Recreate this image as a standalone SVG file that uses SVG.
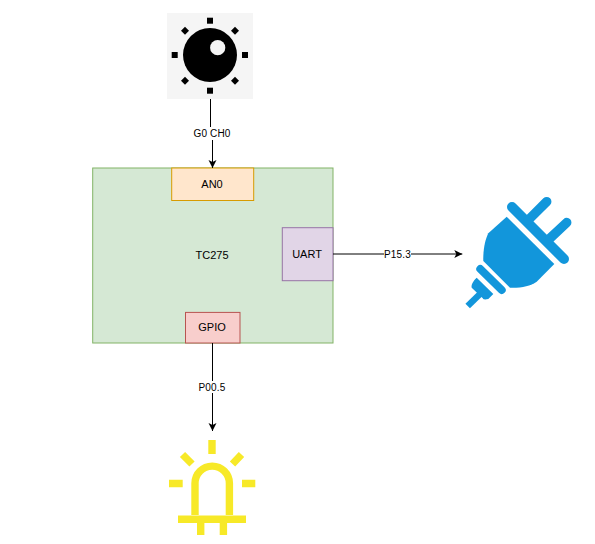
<svg xmlns="http://www.w3.org/2000/svg" width="595" height="544" viewBox="0 0 595 544">
<style>
text{font-family:"Liberation Sans",Arial,sans-serif;fill:#000;text-anchor:middle}
.n{font-size:11px}.l{font-size:10px;letter-spacing:.15px}
.c{fill:none;stroke:#000;stroke-width:1}
.bg{fill:#fff}
.plug{fill:none;stroke:#1296db;stroke-linecap:round}
.led{fill:none;stroke:#f7e928;stroke-width:7.4}
</style>
<defs>
<marker id="arrow" markerUnits="userSpaceOnUse" markerWidth="10" markerHeight="10" refX="8" refY="4.5" orient="auto">
<path d="M0 0.500L8 4.500L0 8.500L2 4.500Z" fill="#000"/>
</marker>
</defs>
<g id="knob">
<rect x="167" y="13" width="86" height="86" fill="#f5f5f5"/>
<circle cx="210" cy="55" r="27" fill="#000"/>
<circle cx="217.700" cy="47.700" r="7.600" fill="#f5f5f5"/>
<rect x="207" y="17.700" width="6" height="6"/>
<rect x="207" y="87.700" width="6" height="6"/>
<rect x="171.700" y="52" width="6" height="6"/>
<rect x="242" y="52" width="6" height="6"/>
<path d="M185 26.700l4 4l-4 4l-4-4zM235 26.700l4 4l-4 4l-4-4zM185 76.700l4 4l-4 4l-4-4zM235 76.700l4 4l-4 4l-4-4z"/>
</g>
<g id="tc275">
<rect x="92.700" y="168" width="240.300" height="175" fill="#d5e8d4" stroke="#82b366"/>
<text class="n" x="212" y="259">TC275</text>
</g>
<g id="an0">
<rect x="171.700" y="168" width="82" height="32.500" fill="#ffe6cc" stroke="#d79b00"/>
<text class="n" x="212" y="188">AN0</text>
</g>
<g id="uart">
<rect x="282.300" y="227.700" width="50.700" height="53" fill="#e1d5e7" stroke="#9673a6"/>
<text class="n" x="307" y="258">UART</text>
</g>
<g id="gpio">
<rect x="185.500" y="312.400" width="54.500" height="30.600" fill="#f8cecc" stroke="#b85450"/>
<text class="n" x="212" y="331">GPIO</text>
</g>
<g id="plug">
<path d="M506.700 216.700L554.300 264L536.700 281.700C530 286 522 288 510 287.700L483.300 261C483 250 485 240 488.300 233.300Z" fill="#1296db"/>
<path class="plug" stroke-width="10" d="M512 207L564 259"/>
<path class="plug" stroke-width="9.500" d="M528.300 220L546.700 201.700M550 238.300L566.700 222.600"/>
<path class="plug" stroke-width="8" d="M480.300 269L501.700 290"/>
<path d="M476.700 277.700L493.300 294L488.300 299C484 300 482 298.700 483.300 298.700L471.700 287.700C471 285 473 281 476.700 277.700Z" fill="#1296db"/>
<path d="M480 294L467.700 306" fill="none" stroke="#1296db" stroke-width="6.500"/>
</g>
<g id="led">
<path class="led" d="M195 515V483.300A17.200 17.200 0 0 1 229.400 483.300V515"/>
<path class="led" d="M212 440V454M169 483.500H182.700M242 483.500H255.300M182.500 454.500L192 464M241.500 454.500L232.500 464M178 519.200H246M200.700 523V535M223.400 523V535"/>
</g>
<g id="connectors">
<path class="c" d="M210.500 99V133H212.500V168" marker-end="url(#arrow)"/>
<path class="c" d="M333 254H462.300" marker-end="url(#arrow)"/>
<path class="c" d="M212.500 343V431" marker-end="url(#arrow)"/>
<rect class="bg" x="192" y="127" width="40" height="13"/>
<text class="l" x="212" y="137">G0 CH0</text>
<rect class="bg" x="384" y="248" width="27" height="12"/>
<text class="l" x="397.500" y="258">P15.3</text>
<rect class="bg" x="198" y="381" width="28" height="12"/>
<text class="l" x="212" y="391">P00.5</text>
</g>
</svg>
